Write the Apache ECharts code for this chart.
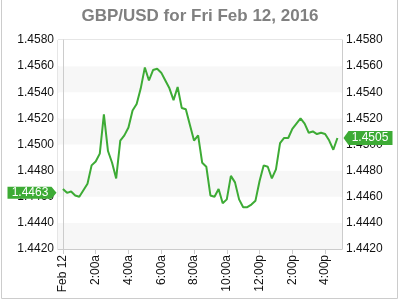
<!DOCTYPE html>
<html>
<head>
<meta charset="utf-8">
<script src="https://cdn.jsdelivr.net/npm/echarts@6/dist/echarts.min.js"></script>
<style>html,body{margin:0;padding:0;background:#fff}#c{width:400px;height:300px}</style>
</head>
<body>
<div id="c"></div>
<script>
// Hours since midnight (15-minute steps) and GBP/USD values
const hours = [0,0.25,0.5,0.75,1,1.25,1.5,1.75,2,2.25,2.5,2.75,3,3.25,3.5,3.75,4,4.25,4.5,4.75,5,5.25,5.5,5.75,6,6.25,6.5,6.75,7,7.25,7.5,7.75,8,8.25,8.5,8.75,9,9.25,9.5,9.75,10,10.25,10.5,10.75,11,11.25,11.5,11.75,12,12.25,12.5,12.75,13,13.25,13.5,13.75,14,14.25,14.5,14.75,15,15.25,15.5,15.75,16,16.25,16.5,16.75];
const rates = [1.4466,1.4463,1.4464,1.4461,1.4460,1.4465,1.4470,1.4484,1.4487,1.4493,1.4523,1.4495,1.4486,1.4474,1.4503,1.4507,1.4513,1.4526,1.4531,1.4543,1.4559,1.4549,1.4557,1.4558,1.4555,1.4549,1.4543,1.4534,1.4544,1.4528,1.4527,1.4515,1.4503,1.4507,1.4486,1.4483,1.4461,1.4460,1.4466,1.4455,1.4458,1.4476,1.4471,1.4458,1.4452,1.4452,1.4454,1.4457,1.4472,1.4484,1.4483,1.4474,1.4481,1.4501,1.4505,1.4505,1.4512,1.4516,1.4520,1.4516,1.4509,1.4510,1.4508,1.4509,1.4508,1.4503,1.4496,1.4505];
const xTickValues = [0,2,4,6,8,10,12,14,16];
const xTickLabels = ["Feb 12","2:00a","4:00a","6:00a","8:00a","10:00a","12:00p","2:00p","4:00p"];
const openRate = 1.4463;
const lastRate = 1.4505;
const yMin = 1.442, yMax = 1.458, yStep = 0.002;

const green = '#3dab35';
const chart = echarts.init(document.getElementById('c'), null, {renderer:'canvas'});
const font = 'Arial, "Liberation Sans", sans-serif';
const yAxisBase = {
  type:'value', min:yMin, max:yMax, interval:yStep,
  axisLine:{show:true, lineStyle:{color:'#cccccc'}},
  axisTick:{show:false},
  splitLine:{show:false},
  axisLabel:{formatter:v=>v.toFixed(4), color:'#111', fontSize:12, fontFamily:font, margin:4}
};
chart.setOption({
  animation:false,
  title:{text:'GBP/USD for Fri Feb 12, 2016', left:'center', top:3,
    textStyle:{fontSize:17, fontWeight:'bold', color:'#808080', fontFamily:font}},
  grid:{left:58, right:58, top:40, bottom:51, show:true, borderColor:'#cccccc', borderWidth:1, backgroundColor:'transparent'},
  xAxis:{
    type:'value', min:-0.3, max:17.03,
    axisLine:{show:true, lineStyle:{color:'#cccccc'}},
    splitLine:{show:false},
    axisTick:{show:true, customValues:xTickValues, length:5, lineStyle:{color:'#cccccc'}},
    axisLabel:{customValues:xTickValues, rotate:90, margin:6, color:'#111', fontSize:12, fontFamily:font,
      formatter:v=>{const i=xTickValues.indexOf(v); return i>=0?xTickLabels[i]:'';}}
  },
  yAxis:[
    Object.assign({}, yAxisBase, {position:'left',
      splitArea:{show:true, areaStyle:{color:['#f7f7f7','#ffffff']}}}),
    Object.assign({}, yAxisBase, {position:'right', splitArea:{show:false}})
  ],
  series:[{
    type:'line', yAxisIndex:0, showSymbol:false, symbol:'none',
    lineStyle:{color:green, width:2},
    data:hours.map((h,i)=>[h, rates[i]]),
    markPoint:{
      silent:true,
      data:[
        {coord:[-0.3, openRate], symbol:'path://M0,0 L44,0 L49,6 L44,12 L0,12 Z', symbolSize:[49,12],
          symbolKeepAspect:false, symbolOffset:[-26,0], itemStyle:{color:green},
          label:{show:true, position:'inside', offset:[-2,0], formatter:openRate.toFixed(4), color:'#fff', fontSize:12, fontFamily:font}},
        {coord:[17.03, lastRate], symbol:'path://M5,0 L49,0 L49,12 L5,12 L0,6 Z', symbolSize:[49,14],
          symbolKeepAspect:false, symbolOffset:[26,0], itemStyle:{color:green},
          label:{show:true, position:'inside', offset:[2,0], formatter:lastRate.toFixed(4), color:'#fff', fontSize:12, fontFamily:font}}
      ]
    }
  }],
  graphic:[
    {type:'line', shape:{x1:1.5,y1:0,x2:1.5,y2:298.5}, style:{stroke:'#cccccc', lineWidth:1}},
    {type:'line', shape:{x1:397.5,y1:0,x2:397.5,y2:298.5}, style:{stroke:'#cccccc', lineWidth:1}},
    {type:'line', shape:{x1:1.5,y1:298.5,x2:397.5,y2:298.5}, style:{stroke:'#cccccc', lineWidth:1}},
    {type:'circle', shape:{cx:272, cy:238.5, r:6}, style:{fill:'#d3d3d3'}},
    {type:'polyline', shape:{points:[[269.5,242],[269.5,235.5],[274.5,241.5],[274.5,235]]}, style:{stroke:'#ffffff', lineWidth:1.3, fill:null}},
    {type:'text', left:281, top:231, style:{text:'OANDA', fill:'#d3d3d3', font:'15px "DejaVu Sans", sans-serif'}}
  ]
});
</script>
</body>
</html>
